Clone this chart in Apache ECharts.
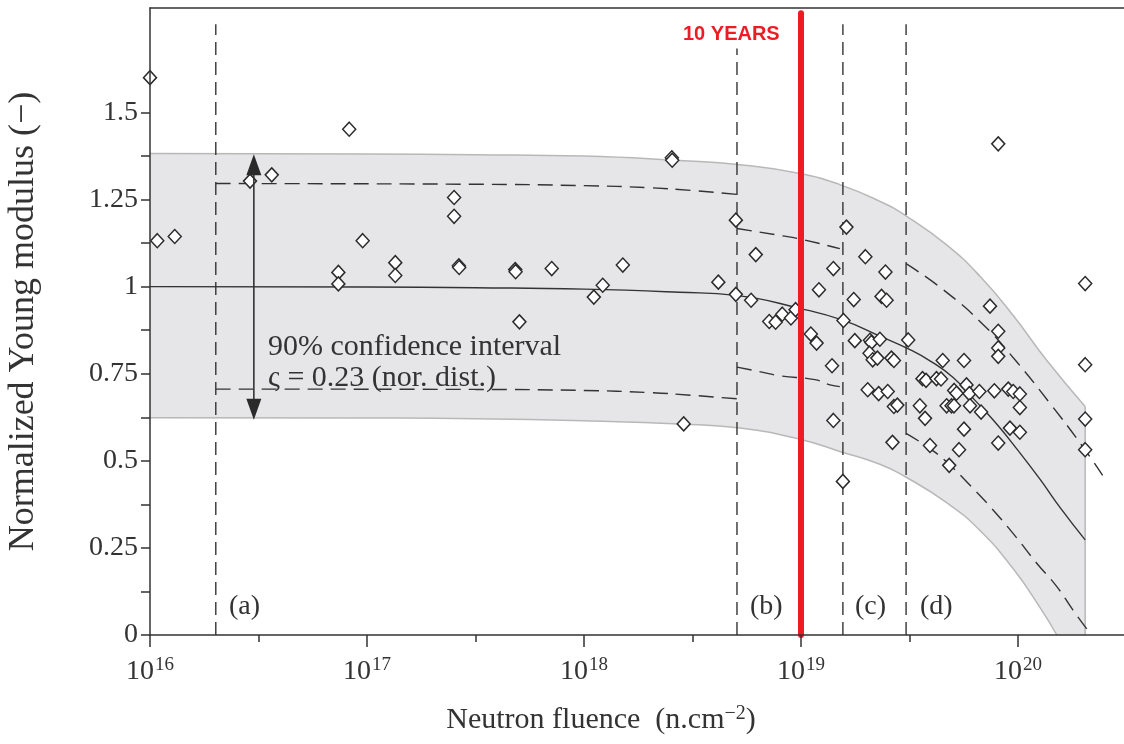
<!DOCTYPE html>
<html><head><meta charset="utf-8">
<script src="https://cdn.jsdelivr.net/npm/echarts@6/dist/echarts.min.js"></script>
<style>html,body{margin:0;padding:0;background:#fff}#c{width:1124px;height:744px}</style>
</head><body><div id="c"></div>
<script>
// ---------- data (fluence in n.cm^-2, normalized Young modulus) ----------
const xMin = 1e16, xMax = 3.08e20;
const xTicks = [1e16, 1e17, 1e18, 1e19, 1e20];
const xMinorTicks = [3.162e16, 3.162e17, 3.162e18, 3.162e19];
const yMinorTicks = [0, 0.125, 0.25, 0.375, 0.5, 0.625, 0.75, 0.875, 1, 1.125, 1.25, 1.375, 1.5];
const yTicks = [0, 0.25, 0.5, 0.75, 1, 1.25, 1.5];

const pointFluence = [
  1e16, 1.08e16, 1.30e16, 2.89e16, 3.64e16, 8.28e16, 9.55e16, 7.38e16, 7.38e16, 1.35e17, 1.35e17, 2.52e17, 2.52e17, 2.65e17, 2.66e17,
  4.82e17, 4.84e17, 7.10e17, 1.51e18, 1.22e18, 1.11e18, 2.54e18, 2.55e18, 5.04e17, 2.88e18, 4.16e18, 5.01e18, 5.01e18, 6.19e18, 5.89e18,
  7.14e18, 7.64e18, 8.20e18, 8.99e18, 9.44e18, 1.11e19, 1.18e19, 1.21e19, 1.41e19, 1.62e19, 1.39e19, 1.41e19, 1.56e19, 1.57e19, 1.75e19,
  1.98e19, 2.45e19, 2.35e19, 2.48e19, 1.77e19, 2.08e19, 2.11e19, 2.31e19, 2.07e19, 2.14e19, 2.25e19, 2.61e19, 2.68e19, 2.03e19, 2.28e19,
  2.51e19, 2.68e19, 2.78e19, 2.64e19, 3.12e19, 4.50e19, 5.64e19, 3.63e19, 3.77e19, 4.21e19, 4.42e19, 3.53e19, 3.73e19, 5.08e19, 5.21e19,
  5.79e19, 5.97e19, 6.64e19, 7.78e19, 9.02e19, 9.51e19, 1.02e20, 4.69e19, 4.94e19, 5.07e19, 6.01e19, 6.76e19, 1.02e20, 5.64e19, 9.18e19,
  1.02e20, 3.93e19, 5.35e19, 8.11e19, 4.82e19, 7.43e19, 8.11e19, 8.11e19, 8.11e19, 8.11e19, 2.04e20, 2.04e20, 2.04e20, 2.04e20
];
const pointModulus = [
  1.60, 1.132, 1.144, 1.303, 1.321, 1.452, 1.132, 1.041, 1.008, 1.069, 1.032, 1.256, 1.202, 1.060, 1.055,
  1.049, 1.043, 1.052, 1.062, 1.004, 0.970, 1.370, 1.363, 0.899, 0.606, 1.013, 0.978, 1.191, 1.092, 0.961,
  0.900, 0.898, 0.921, 0.910, 0.934, 0.864, 0.838, 0.991, 1.052, 1.171, 0.773, 0.616, 0.441, 0.903, 0.963,
  1.086, 1.042, 0.972, 0.961, 0.845, 0.846, 0.840, 0.849, 0.809, 0.790, 0.795, 0.795, 0.788, 0.704, 0.693,
  0.699, 0.656, 0.660, 0.553, 0.847, 0.788, 0.788, 0.736, 0.731, 0.736, 0.735, 0.658, 0.622, 0.702, 0.694,
  0.718, 0.693, 0.699, 0.701, 0.706, 0.699, 0.692, 0.658, 0.658, 0.658, 0.658, 0.640, 0.653, 0.591, 0.594,
  0.582, 0.544, 0.532, 0.551, 0.487, 0.944, 0.872, 0.824, 0.800, 1.410, 1.009, 0.776, 0.620, 0.532
];

// mean curve
const meanFluence = [1e16, 1e17, 3.16e17, 1e18, 2.75e18, 5e18, 1e19, 1.57e19, 2.31e19, 3.16e19, 3.98e19, 5.01e19, 6.31e19, 7.94e19, 1e20, 1.26e20, 1.58e20, 2.04e20];
const meanModulus = [1.0, 0.999, 0.997, 0.993, 0.984, 0.975, 0.937, 0.903, 0.858, 0.82, 0.785, 0.74, 0.675, 0.607, 0.53, 0.448, 0.362, 0.273];

// 90% confidence band
const bandUpperFluence = [1e16, 1e17, 3.16e17, 1e18, 2.75e18, 5.25e18, 9.89e18, 1.51e19, 2.31e19, 3.07e19, 4.69e19, 6.68e19, 9.51e19, 1.35e20, 2.04e20];
const bandUpper = [1.382, 1.381, 1.379, 1.375, 1.362, 1.35, 1.325, 1.293, 1.245, 1.202, 1.12, 1.03, 0.917, 0.79, 0.656];
const bandLowerFluence = [1e16, 1e17, 3.16e17, 1e18, 2.75e18, 5.25e18, 9.89e18, 1.51e19, 2.31e19, 3.01e19, 4.69e19, 6.68e19, 9.51e19, 1.26e20, 1.51e20];
const bandLower = [0.624, 0.623, 0.621, 0.615, 0.606, 0.594, 0.562, 0.527, 0.49, 0.455, 0.38, 0.30, 0.19, 0.08, 0];

// dashed intervals per region
const regionAFluence = [2.01e16, 3.16e17, 1e18, 2e18, 3.16e18, 5.07e18];
const regionAUpper = [1.296, 1.294, 1.29, 1.284, 1.276, 1.265];
const regionALower = [0.706, 0.705, 0.702, 0.696, 0.688, 0.678];
const regionBUpperFluence = [5.07e18, 8e18, 9.89e18, 1.51e19];
const regionBUpper = [1.167, 1.147, 1.137, 1.109];
const regionBLowerFluence = [5.07e18, 6.68e18, 8e18, 1.16e19, 1.36e19, 1.51e19];
const regionBLower = [0.769, 0.754, 0.744, 0.733, 0.718, 0.713];
const regionDUpperFluence = [3.05e19, 4.53e19, 6.92e19, 9.84e19, 1.40e20, 1.96e20, 2.56e20];
const regionDUpper = [1.066, 0.991, 0.891, 0.785, 0.666, 0.546, 0.441];
const regionDLowerFluence = [3.05e19, 3.93e19, 4.78e19, 6.01e19, 7.43e19, 9.51e19, 1.22e20, 1.51e20, 1.79e20, 2.18e20];
const regionDLower = [0.579, 0.535, 0.492, 0.43, 0.369, 0.291, 0.206, 0.139, 0.072, 0];

// region boundaries
const boundaryFluence = [2.01e16, 5.07e18, 1.56e19, 3.05e19];
const boundaryTop = [1.753, 1.684, 1.753, 1.753];
const regionLabels = ['(a)', '(b)', '(c)', '(d)'];

// 10 years marker & confidence arrow
const tenYearsFluence = 1e19;
const tenYearsTop = 1.785;
const arrowFluence = 3.01e16;
const arrowTop = 1.380;
const arrowBottom = 0.618;

// ---------- chart ----------
const L = Math.log10;
const pts = (xs, ys) => xs.map((x, i) => [L(x), ys[i]]);
const ink = '#333333';
const serif = 'Liberation Serif';

const dashed = (xs, ys) => ({
  type: 'line', data: pts(xs, ys), smooth: true, symbol: 'none', silent: true,
  lineStyle: { color: ink, width: 1.4, type: [15, 8] }, z: 4
});

const series = [];
series.push({
  type: 'line', data: pts(bandUpperFluence, bandUpper), smooth: true, symbol: 'none', silent: true,
  lineStyle: { color: '#b8b8b8', width: 1.5 }, areaStyle: { color: '#e6e6e8', opacity: 1, origin: 'start' }, z: 1
});
series.push({
  type: 'line', data: pts(bandLowerFluence, bandLower), smooth: true, symbol: 'none', silent: true,
  lineStyle: { color: '#b8b8b8', width: 1.5 }, areaStyle: { color: '#ffffff', opacity: 1, origin: 'start' }, z: 1
});
const bandEnd = bandUpperFluence[bandUpperFluence.length - 1];
series.push({
  type: 'line', data: [[L(bandEnd), 0], [L(bandEnd), bandUpper[bandUpper.length - 1]]], symbol: 'none', silent: true,
  lineStyle: { color: '#b8b8b8', width: 1.5 }, z: 2
});
boundaryFluence.forEach((f, i) => series.push({
  type: 'line', data: [[L(f), 0], [L(f), boundaryTop[i]]], symbol: 'none', silent: true,
  lineStyle: { color: ink, width: 1.4, type: [13, 7] }, z: 4
}));
series.push(dashed(regionAFluence, regionAUpper));
series.push(dashed(regionAFluence, regionALower));
series.push(dashed(regionBUpperFluence, regionBUpper));
series.push(dashed(regionBLowerFluence, regionBLower));
series.push(dashed(regionDUpperFluence, regionDUpper));
series.push(dashed(regionDLowerFluence, regionDLower));
series.push({
  type: 'line', data: pts(meanFluence, meanModulus), smooth: true, symbol: 'none', silent: true,
  lineStyle: { color: ink, width: 1.4 }, z: 4
});
series.push({
  type: 'custom', silent: true, z: 6,
  data: [[L(arrowFluence), arrowTop, arrowBottom]],
  renderItem: (params, api) => {
    const t = api.coord([api.value(0), api.value(1)]);
    const b = api.coord([api.value(0), api.value(2)]);
    const hl = 21, hw = 7.5;
    return {
      type: 'group', children: [
        { type: 'line', shape: { x1: t[0], y1: t[1] + hl - 2, x2: b[0], y2: b[1] - hl + 2 }, style: { stroke: ink, lineWidth: 1.6 } },
        { type: 'polygon', shape: { points: [[t[0], t[1]], [t[0] - hw, t[1] + hl], [t[0] + hw, t[1] + hl]] }, style: { fill: '#2a2a2a' } },
        { type: 'polygon', shape: { points: [[b[0], b[1]], [b[0] - hw, b[1] - hl], [b[0] + hw, b[1] - hl]] }, style: { fill: '#2a2a2a' } }
      ]
    };
  }
});
series.push({
  type: 'scatter', data: pts(pointFluence, pointModulus), symbol: 'diamond', symbolSize: [13, 14], silent: true,
  itemStyle: { color: '#ffffff', borderColor: '#2b2b2b', borderWidth: 1.5, opacity: 1 }, z: 5
});
series.push({
  type: 'line', data: [[L(tenYearsFluence), 0], [L(tenYearsFluence), tenYearsTop]], symbol: 'none', silent: true,
  lineStyle: { color: '#ed1c24', width: 6, cap: 'round' }, z: 8
});

const axisLineStyle = { color: ink, width: 1.5 };
const option = {
  animation: false,
  backgroundColor: '#ffffff',
  grid: { left: 150, right: 0, top: 8, bottom: 109, containLabel: false, outerBoundsMode: 'none' },
  xAxis: [
    {
      type: 'value', min: L(xMin), max: L(xMax), position: 'bottom', z: 10,
      axisLine: { show: true, onZero: false, lineStyle: axisLineStyle },
      axisTick: { show: true, length: 12, customValues: xTicks.map(L), lineStyle: axisLineStyle },
      axisLabel: {
        customValues: xTicks.map(L), margin: 23,
        formatter: v => '{b|10}{s|' + Math.round(v) + '}',
        rich: {
          b: { fontFamily: serif, fontSize: 28, color: ink, lineHeight: 28 },
          s: { fontFamily: serif, fontSize: 19, color: ink, lineHeight: 19, padding: [0, 0, 13, 1] }
        }
      },
      splitLine: { show: false },
      name: '{t|Neutron fluence  (n.cm}{s|−2}{t|)}', nameLocation: 'middle', nameGap: 70,
      nameTextStyle: {
        padding: [0, 72, 0, 0],
        rich: {
          t: { fontFamily: serif, fontSize: 30, color: ink, lineHeight: 30 },
          s: { fontFamily: serif, fontSize: 20, color: ink, lineHeight: 20, padding: [0, 0, 12, 0] }
        }
      }
    },
    {
      type: 'value', min: L(xMin), max: L(xMax), position: 'bottom', z: 10,
      axisLine: { show: false }, axisLabel: { show: false }, splitLine: { show: false },
      axisTick: { show: true, length: 7, customValues: xMinorTicks.map(L), lineStyle: axisLineStyle }
    },
    {
      type: 'value', min: L(xMin), max: L(xMax), position: 'top', z: 10,
      axisLine: { show: true, onZero: false, lineStyle: axisLineStyle },
      axisTick: { show: false }, axisLabel: { show: false }, splitLine: { show: false }
    }
  ],
  yAxis: {
    type: 'value', min: 0, max: 1.8, z: 10,
    axisLine: { show: true, onZero: false, lineStyle: axisLineStyle },
    axisTick: { show: true, length: 9, customValues: yMinorTicks, lineStyle: axisLineStyle },
    axisLabel: { customValues: yTicks, margin: 12, fontFamily: serif, fontSize: 28, color: ink, formatter: v => String(v) },
    splitLine: { show: false },
    name: 'Normalized Young modulus (−)', nameLocation: 'middle', nameGap: 108,
    nameTextStyle: { fontFamily: serif, fontSize: 36, color: ink }
  },
  graphic: [
    { type: 'text', x: 683, y: 34, z: 20, style: { text: '10 YEARS', font: 'bold 20px "Liberation Sans"', fill: '#ed1c24', verticalAlign: 'middle' } },
    { type: 'text', x: 229, y: 607, z: 20, style: { text: regionLabels[0], font: '28px "Liberation Serif"', fill: ink, verticalAlign: 'middle' } },
    { type: 'text', x: 750, y: 607, z: 20, style: { text: regionLabels[1], font: '28px "Liberation Serif"', fill: ink, verticalAlign: 'middle' } },
    { type: 'text', x: 855, y: 607, z: 20, style: { text: regionLabels[2], font: '28px "Liberation Serif"', fill: ink, verticalAlign: 'middle' } },
    { type: 'text', x: 920, y: 607, z: 20, style: { text: regionLabels[3], font: '28px "Liberation Serif"', fill: ink, verticalAlign: 'middle' } },
    { type: 'text', x: 268, y: 347, z: 20, style: { text: '90% confidence interval', font: '30px "Liberation Serif"', fill: ink, verticalAlign: 'middle' } },
    { type: 'text', x: 268, y: 378, z: 20, style: { text: 'ς = 0.23 (nor. dist.)', font: '30px "Liberation Serif"', fill: ink, verticalAlign: 'middle' } }
  ],
  series
};
const chart = echarts.init(document.getElementById('c'));
chart.setOption(option);
</script>
</body></html>
